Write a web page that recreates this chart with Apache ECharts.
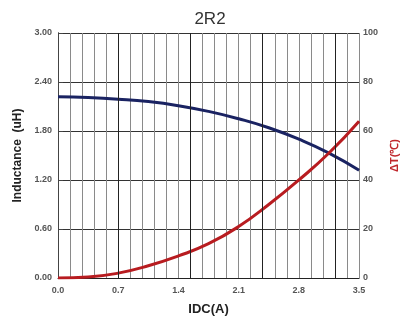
<!DOCTYPE html>
<html><head><meta charset="utf-8">
<script src="https://cdn.jsdelivr.net/npm/echarts@6/dist/echarts.min.js"></script>
<style>html,body{margin:0;padding:0;background:#fff}#c{width:408px;height:322px}</style>
</head><body><div id="c"></div>
<script>
const idc = [0, 0.35, 0.7, 1.05, 1.4, 1.75, 2.1, 2.45, 2.8, 3.15, 3.5];
const inductance = [2.22, 2.21, 2.19, 2.16, 2.11, 2.04, 1.95, 1.84, 1.70, 1.53, 1.32];
const deltaT = [0, 0.4, 2.0, 5.0, 9.0, 14.0, 21.0, 30.0, 40.0, 51.0, 64.0];
const darkGridX = [0.7, 1.54, 2.38, 3.22];
const title = '2R2';

const chart = echarts.init(document.getElementById('c'));
const lblFont = {fontFamily: 'Liberation Sans, Arial, sans-serif', fontSize: 9, fontWeight: 'bold', color: '#555'};
chart.setOption({
  animation: false,
  title: {text: title, left: 205, top: 6, textAlign: 'center',
    textStyle: {fontFamily: 'Liberation Sans, Arial, sans-serif', fontSize: 17, fontWeight: 'normal', color: '#333'}},
  grid: {left: 58, right: 47, top: 33, bottom: 44},
  xAxis: [{
    type: 'value', min: 0, max: 3.5, interval: 0.7,
    name: 'IDC(A)', nameLocation: 'middle', nameGap: 25,
    nameTextStyle: {fontFamily: 'Liberation Sans Narrow, Liberation Sans, Arial, sans-serif', fontSize: 13, fontWeight: 'bold', color: '#222'},
    axisLine: {lineStyle: {color: '#222', width: 1}},
    axisTick: {show: false},
    axisLabel: Object.assign({margin: 8, formatter: v => v.toFixed(1)}, lblFont),
    splitLine: {show: false}
  }, {
    type: 'value', min: 0, max: 3.5, interval: 0.14, show: true, position: 'bottom',
    axisLine: {show: false}, axisTick: {show: false}, axisLabel: {show: false},
    splitLine: {show: true, lineStyle: {color: '#8a8a8a', width: 1}}
  }],
  yAxis: [{
    type: 'value', min: 0, max: 3, interval: 0.6,
    name: 'Inductance  (uH)', nameLocation: 'middle', nameGap: 32,
    nameTextStyle: {fontFamily: 'Liberation Sans, Arial, sans-serif', fontSize: 12, fontWeight: 'bold', color: '#222'},
    axisLine: {show: true, lineStyle: {color: '#222'}},
    axisTick: {show: false},
    axisLabel: Object.assign({margin: 6, formatter: v => v.toFixed(2)}, lblFont),
    splitLine: {show: true, lineStyle: {color: '#333', width: 1}}
  }, {
    type: 'value', min: 0, max: 100, interval: 20, position: 'right',
    name: 'ΔT(℃)', nameLocation: 'middle', nameGap: 28, nameRotate: 90,
    nameTextStyle: {fontFamily: 'Liberation Sans, Arial, sans-serif', fontSize: 11, fontWeight: 'bold', color: '#c0282d'},
    axisLine: {show: true, lineStyle: {color: '#444'}},
    axisTick: {show: true, length: 5, lineStyle: {color: '#444'}},
    axisLabel: Object.assign({margin: 4}, lblFont),
    splitLine: {show: false}
  }],
  series: [{
    type: 'line', xAxisIndex: 0, yAxisIndex: 0, smooth: true, symbol: 'none',
    data: idc.map((x, i) => [x, inductance[i]]),
    lineStyle: {color: '#1a2362', width: 3},
    markLine: {silent: true, symbol: 'none', label: {show: false},
      lineStyle: {color: '#222', width: 1, type: 'solid'},
      data: darkGridX.map(v => ({xAxis: v}))},
    z: 3
  }, {
    type: 'line', xAxisIndex: 0, yAxisIndex: 1, smooth: true, symbol: 'none',
    data: idc.map((x, i) => [x, deltaT[i]]),
    lineStyle: {color: '#b81c20', width: 3},
    z: 4
  }]
});
</script></body></html>
